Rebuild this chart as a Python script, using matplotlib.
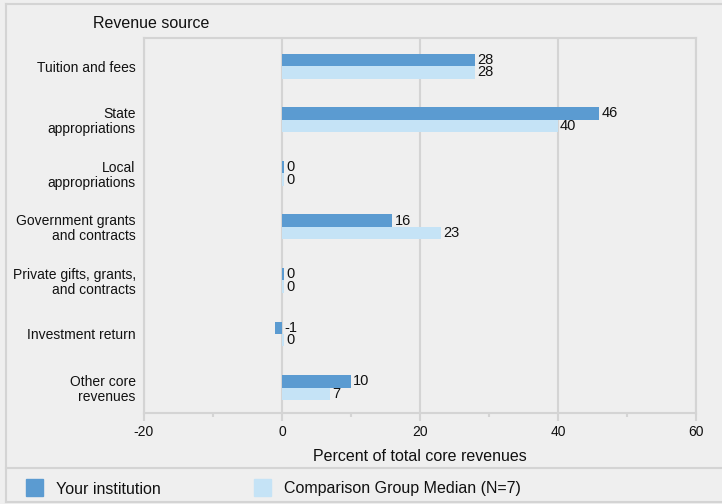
import matplotlib
matplotlib.use("Agg")
import matplotlib.pyplot as plt
import numpy as np
from matplotlib.patches import Rectangle
from matplotlib.lines import Line2D

plt.rcParams['font.family'] = ['Liberation Sans', 'DejaVu Sans']

categories = ["Tuition and fees", "State\nappropriations", "Local\nappropriations",
              "Government grants\nand contracts", "Private gifts, grants,\nand contracts",
              "Investment return", "Other core\nrevenues"]
your_inst = [28, 46, 0, 16, 0, -1, 10]
comparison = [28, 40, 0, 23, 0, 0, 7]
series_names = ["Your institution", "Comparison Group Median (N=7)"]
xticks = [-20, 0, 20, 40, 60]

dark = "#5b9bd1"
light = "#c5e3f6"
bg = "#efefef"
gridc = "#d4d4d4"
txt = "#111111"

W, H = 722, 504
fig = plt.figure(figsize=(W / 100, H / 100), dpi=100, facecolor=bg)
ax = fig.add_axes([144 / W, 1 - 413 / H, (696 - 144) / W, (413 - 38) / H])
ax.set_facecolor(bg)

n = len(categories)
y = np.arange(n)
bh = 0.233
v1 = np.array(your_inst, dtype=float)
v2 = np.array(comparison, dtype=float)
minw = 0.35
d1 = np.where(v1 == 0, minw, v1)
d2 = np.where(v2 == 0, minw, v2)

ax.barh(y - bh / 2, d1, height=bh, color=dark, zorder=3)
ax.barh(y + bh / 2, d2, height=bh, color=light, zorder=3)

for i in range(n):
    for yy, v, d in ((y[i] - bh / 2, v1[i], d1[i]), (y[i] + bh / 2, v2[i], d2[i])):
        ax.annotate(f"{int(v)}", xy=(max(d, 0), yy), xytext=(1.5, 0),
                    textcoords="offset points", ha="left", va="center",
                    fontsize=10.5, color=txt, zorder=4)

shift = -0.025
ax.set_xlim(-20, 60)
ax.set_ylim(n - 0.5 + shift, -0.5 + shift)
ax.set_xticks(xticks)
ax.set_xticks([-10, 10, 30, 50], minor=True)
ax.set_xticklabels([str(t) for t in xticks], fontsize=10, color=txt)
ax.set_yticks(y)
ax.set_yticklabels(categories, fontsize=10, color=txt, ha="right",
                   multialignment="right", linespacing=1.1)
ax.tick_params(axis="y", length=0, pad=6)
ax.tick_params(axis="x", which="major", length=6, width=1.5, color=gridc, pad=3)
ax.tick_params(axis="x", which="minor", length=3, width=1.5, color=gridc)
ax.grid(axis="x", which="major", color=gridc, linewidth=1.5, zorder=1)
for s in ax.spines.values():
    s.set_color(gridc)
    s.set_linewidth(1.5)
ax.set_xlabel("Percent of total core revenues", fontsize=11.5, color=txt, labelpad=7)

fig.text(93 / W, 1 - 23 / H, "Revenue source", fontsize=11.5, ha="left", va="center", color=txt)

# frame lines
fig.add_artist(Line2D([6 / W, 6 / W], [1 - 4 / H, 1 - 502 / H], color=gridc, lw=1.5, transform=fig.transFigure))
fig.add_artist(Line2D([6 / W, 1], [1 - 4 / H, 1 - 4 / H], color=gridc, lw=1.5, transform=fig.transFigure))
fig.add_artist(Line2D([6 / W, 1], [1 - 468 / H, 1 - 468 / H], color=gridc, lw=1.5, transform=fig.transFigure))
fig.add_artist(Line2D([6 / W, 1], [1 - 502 / H, 1 - 502 / H], color=gridc, lw=1.5, transform=fig.transFigure))

# legend
for x0, c, name in ((26, dark, series_names[0]), (254, light, series_names[1])):
    fig.add_artist(Rectangle((x0 / W, 1 - 496 / H), 17 / W, 17 / H, color=c, transform=fig.transFigure))
    fig.text((x0 + 30) / W, 1 - 489 / H, name, fontsize=11.5, ha="left", va="center", color=txt)

fig.savefig("out.png", dpi=100, facecolor=bg)
